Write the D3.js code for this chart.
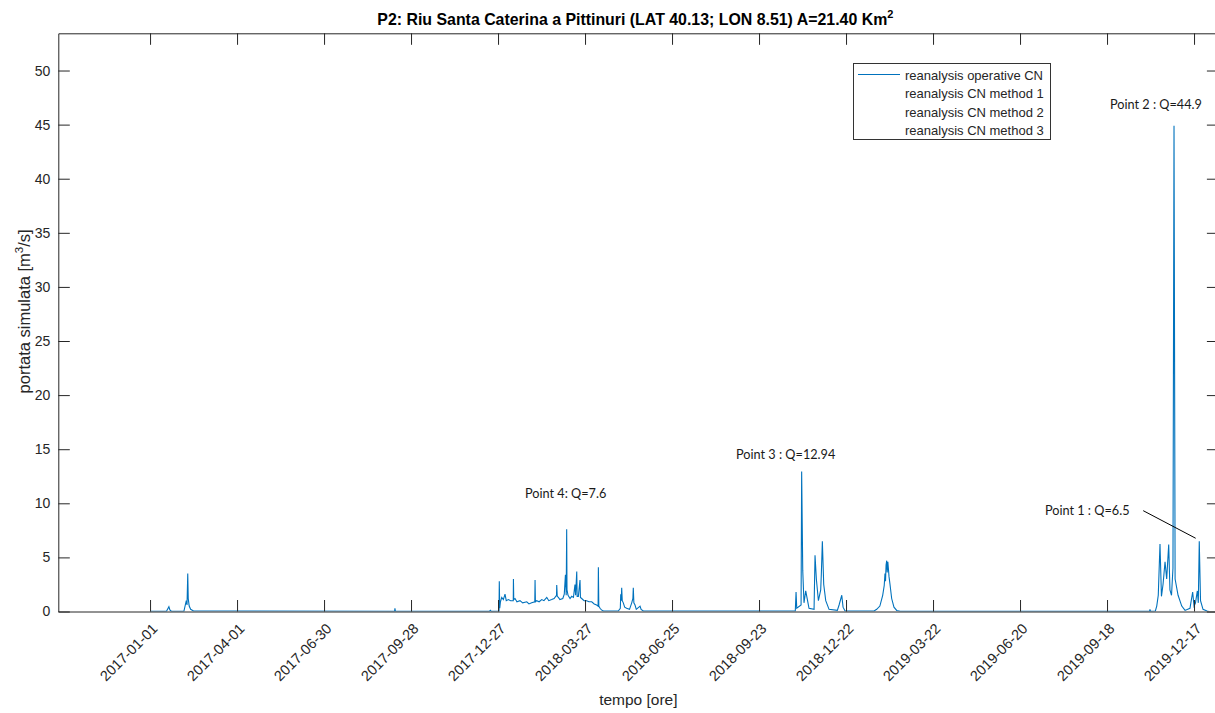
<!DOCTYPE html>
<html>
<head>
<meta charset="utf-8">
<script src="https://cdn.jsdelivr.net/npm/d3@7"></script>
<style>
  html, body { margin: 0; padding: 0; background: #fff; }
  svg { display: block; }
</style>
</head>
<body>
<svg id="chart" width="1215" height="713"></svg>
<script>
// ---------------- DATA ----------------
const tickLabels = ["2017-01-01","2017-04-01","2017-06-30","2017-09-28","2017-12-27","2018-03-27",
  "2018-06-25","2018-09-23","2018-12-22","2019-03-22","2019-06-20","2019-09-18","2019-12-17"];
const yTicks = [0,5,10,15,20,25,30,35,40,45,50];

const times = [
  "2017-01-01 00:00","2017-01-18 00:00","2017-01-20 12:00","2017-01-21 12:00","2017-01-23 00:00",
  "2017-02-05 00:00","2017-02-07 12:00","2017-02-08 06:00","2017-02-09 00:00","2017-02-09 12:00",
  "2017-02-10 12:00","2017-02-12 00:00","2017-02-15 00:00",
  "2017-09-11 00:00","2017-09-11 08:00","2017-09-11 20:00",
  "2017-12-18 00:00","2017-12-19 00:00","2017-12-20 00:00",
  "2017-12-28 00:00","2017-12-28 07:00","2017-12-28 18:00","2017-12-29 12:00","2017-12-30 19:00",
  "2018-01-01 12:00","2018-01-03 05:00","2018-01-04 12:00","2018-01-06 17:00","2018-01-09 00:00",
  "2018-01-11 18:00","2018-01-11 22:00","2018-01-12 06:00","2018-01-13 14:00","2018-01-15 12:00",
  "2018-01-18 17:00","2018-01-21 12:00","2018-01-25 17:00","2018-01-28 00:00","2018-01-30 19:00",
  "2018-02-03 00:00","2018-02-03 07:00","2018-02-03 16:00","2018-02-05 00:00","2018-02-07 12:00",
  "2018-02-10 05:00","2018-02-12 12:00","2018-02-15 10:00","2018-02-17 12:00","2018-02-20 12:00",
  "2018-02-23 00:00","2018-02-25 12:00","2018-02-25 17:00","2018-02-26 06:00","2018-02-27 10:00",
  "2018-03-01 00:00","2018-03-04 00:00","2018-03-05 12:00","2018-03-06 17:00","2018-03-07 12:00",
  "2018-03-08 00:00","2018-03-08 08:00","2018-03-09 10:00","2018-03-11 12:00","2018-03-13 05:00",
  "2018-03-15 00:00","2018-03-16 14:00","2018-03-17 06:00","2018-03-18 10:00","2018-03-18 20:00",
  "2018-03-20 02:00","2018-03-21 19:00","2018-03-22 06:00","2018-03-23 12:00","2018-03-26 00:00",
  "2018-03-28 17:00","2018-03-31 00:00","2018-04-02 22:00","2018-04-05 12:00","2018-04-08 00:00",
  "2018-04-09 12:00","2018-04-09 19:00","2018-04-10 06:00","2018-04-11 12:00","2018-04-13 00:00",
  "2018-04-15 00:00","2018-04-30 10:00","2018-05-02 12:00","2018-05-02 22:00","2018-05-03 10:00",
  "2018-05-03 22:00","2018-05-04 12:00","2018-05-05 14:00","2018-05-07 00:00","2018-05-09 00:00",
  "2018-05-12 00:00","2018-05-14 07:00","2018-05-15 12:00","2018-05-15 22:00","2018-05-16 12:00",
  "2018-05-17 17:00","2018-05-19 00:00","2018-05-22 22:00","2018-05-24 00:00","2018-05-26 07:00",
  "2018-10-30 12:00","2018-10-31 07:00","2018-11-01 00:00","2018-11-05 12:00","2018-11-06 02:00",
  "2018-11-07 05:00","2018-11-08 12:00","2018-11-10 07:00","2018-11-13 17:00","2018-11-18 22:00",
  "2018-11-19 22:00","2018-11-21 07:00","2018-11-23 10:00","2018-11-25 19:00","2018-11-26 10:00",
  "2018-11-27 12:00","2018-11-28 22:00","2018-12-01 00:00","2018-12-04 10:00","2018-12-13 00:00",
  "2018-12-14 19:00","2018-12-17 14:00","2018-12-18 22:00","2018-12-21 00:00",
  "2019-01-20 00:00","2019-01-22 17:00","2019-01-26 00:00","2019-01-28 22:00","2019-01-30 12:00",
  "2019-01-31 07:00","2019-01-31 20:00","2019-02-01 10:00","2019-02-02 02:00","2019-02-02 14:00",
  "2019-02-03 06:00","2019-02-03 19:00","2019-02-04 12:00","2019-02-05 12:00","2019-02-07 05:00",
  "2019-02-09 14:00","2019-02-12 10:00","2019-02-16 00:00",
  "2019-11-01 00:00","2019-11-01 10:00","2019-11-02 00:00","2019-11-07 00:00","2019-11-08 10:00",
  "2019-11-10 00:00","2019-11-11 19:00","2019-11-13 07:00","2019-11-14 22:00","2019-11-17 00:00",
  "2019-11-18 17:00","2019-11-20 19:00","2019-11-22 02:00","2019-11-23 17:00","2019-11-25 05:00",
  "2019-11-26 07:00","2019-11-27 10:00","2019-11-30 12:00","2019-12-04 07:00","2019-12-07 17:00",
  "2019-12-12 19:00","2019-12-15 14:00","2019-12-17 00:00","2019-12-18 12:00","2019-12-20 10:00",
  "2019-12-21 10:00","2019-12-22 10:00","2019-12-23 17:00","2019-12-26 07:00","2019-12-30 10:00",
  "2019-12-31 23:00"
];
const flowOperative = [
  0.02,0.02,0.45,0.15,0.03,
  0.02,1.0,0.6,3.5,1.2,
  0.5,0.2,0.05,
  0.02,0.3,0.02,
  0.02,0.12,0.02,
  0.05,2.8,0.3,0.9,1.3,
  1.1,1.6,1.0,1.1,1.0,
  1.0,3.0,1.1,1.2,0.9,
  1.0,0.8,0.9,0.7,0.8,
  0.9,2.9,0.9,1.0,0.9,
  1.1,1.0,1.3,1.0,1.1,
  1.2,1.5,2.45,1.4,1.3,
  1.1,1.2,1.6,3.4,1.5,
  7.6,2.0,1.5,1.2,1.4,
  1.3,2.5,1.5,3.7,1.4,
  1.4,2.9,1.3,1.2,1.0,
  1.0,0.9,0.9,0.7,0.6,
  0.5,4.1,0.5,0.3,0.15,
  0.05,0.05,0.3,1.6,1.0,
  2.2,1.0,0.8,0.4,0.3,
  0.2,0.8,1.2,2.2,0.8,
  0.6,0.2,0.5,0.2,0.05,
  0.05,1.8,0.3,0.6,12.94,
  3.8,0.8,1.9,0.3,0.2,
  5.2,3.0,1.0,2.0,3.4,
  6.5,2.5,1.0,0.2,0.1,
  0.6,1.5,0.4,0.05,
  0.05,0.2,0.5,1.5,2.4,
  3.5,2.8,4.3,4.7,3.6,
  4.6,4.0,3.2,2.5,1.2,
  0.4,0.1,0.03,
  0.02,0.2,0.02,0.05,0.5,
  1.5,6.24,1.4,2.5,4.6,
  3.0,6.2,2.0,1.5,4.0,
  44.9,3.0,1.5,0.5,0.1,
  0.3,1.8,0.5,0.8,1.9,
  0.8,6.5,1.0,0.2,0.05,
  0.03
];

const legendLabels = ["reanalysis operative CN","reanalysis CN method 1","reanalysis CN method 2","reanalysis CN method 3"];

const annoTexts  = ["Point 2 : Q=44.9","Point 3 : Q=12.94","Point 4: Q=7.6","Point 1 : Q=6.5"];
const annoTimes  = ["2019-09-21 02:00","2018-08-30 05:00","2018-01-23 22:00","2019-07-15 19:00"];
const annoValues = [46.4, 14.1, 10.49, 8.92];
const pointerTimes  = ["2019-10-25 10:00","2019-12-18 17:00"];
const pointerValues = [9.32, 6.77];

// ---------------- CHART ----------------
const parse = d3.timeParse("%Y-%m-%d %H:%M");
const parseDay = d3.timeParse("%Y-%m-%d");
const data = times.map((t,i) => ({t: parse(t), v: flowOperative[i]}));

const svg = d3.select("#chart");
const L = 58.3, R = 1218.4, T = 33.3, B = 611.5;
const x = d3.scaleTime().domain([parse("2016-09-28 02:00"), parse("2020-01-11 05:00")]).range([L, R]);
const y = d3.scaleLinear().domain([0, 53.44]).range([B, T]);

const axisColor = "#262626";
const font = "'Liberation Sans', Arial, Helvetica, sans-serif";

// data line
svg.append("clipPath").attr("id","clip").append("rect")
  .attr("x", L).attr("y", T).attr("width", R - L).attr("height", B - T);
svg.append("path").datum(data)
  .attr("clip-path","url(#clip)")
  .attr("fill","none").attr("stroke","#0072BD").attr("stroke-width",1.1)
  .attr("d", d3.line().x(d => x(d.t)).y(d => y(d.v)));

// axes (ticks inward, box)
const xTickDates = tickLabels.map(parseDay);
const tickLen = 11.5;
const gBottom = svg.append("g").attr("transform", `translate(0,${B})`)
  .call(d3.axisBottom(x).tickValues(xTickDates).tickSizeInner(-tickLen).tickSizeOuter(0).tickFormat(""));
const gTop = svg.append("g").attr("transform", `translate(0,${T})`)
  .call(d3.axisTop(x).tickValues(xTickDates).tickSizeInner(-tickLen).tickSizeOuter(0).tickFormat(""));
const gLeft = svg.append("g").attr("transform", `translate(${L},0)`)
  .call(d3.axisLeft(y).tickValues(yTicks).tickSizeInner(-tickLen).tickSizeOuter(0).tickFormat(d3.format("d")).tickPadding(8));
const gRight = svg.append("g").attr("transform", `translate(${R},0)`)
  .call(d3.axisRight(y).tickValues(yTicks).tickSizeInner(-tickLen).tickSizeOuter(0).tickFormat(""));
[gBottom, gTop, gLeft, gRight].forEach(g => {
  g.select(".domain").attr("stroke", axisColor).attr("stroke-width", 1);
  g.selectAll(".tick line").attr("stroke", axisColor).attr("stroke-width", 1);
});
gLeft.selectAll(".tick text").attr("fill", axisColor).attr("font-family", font).attr("font-size", 14);

// rotated x labels
svg.append("g").selectAll("text").data(xTickDates).join("text")
  .attr("transform", d => `translate(${x(d)+8.5},${B + 18}) rotate(-45)`)
  .attr("text-anchor","end")
  .attr("fill", axisColor).attr("font-family", font).attr("font-size", 14.5)
  .text((d,i) => tickLabels[i]);

// axis labels
svg.append("text").attr("x", (L + R) / 2).attr("y", 705).attr("text-anchor","middle")
  .attr("fill", axisColor).attr("font-family", font).attr("font-size", 15.5).text("tempo [ore]");

const yl = svg.append("text").attr("transform", `translate(30,${(T + B) / 2 - 11}) rotate(-90)`)
  .attr("text-anchor","middle").attr("fill", axisColor).attr("font-family", font).attr("font-size", 16.5);
yl.append("tspan").text("portata simulata [m");
yl.append("tspan").attr("dy", -7).attr("font-size", 11.5).text("3");
yl.append("tspan").attr("dy", 7).text("/s]");

// title
const title = svg.append("text").attr("x", (L + R) / 2 - 3).attr("y", 25).attr("text-anchor","middle")
  .attr("fill", "#000").attr("font-family", font).attr("font-size", 15.9).attr("font-weight","bold");
title.append("tspan").text("P2: Riu Santa Caterina a Pittinuri (LAT 40.13; LON 8.51) A=21.40 Km");
title.append("tspan").attr("dy", -7).attr("font-size", 11).text("2");

// legend
const lg = svg.append("g");
lg.append("rect").attr("x", 853.5).attr("y", 63.5).attr("width", 197).attr("height", 76)
  .attr("fill","#fff").attr("stroke", "#333").attr("stroke-width", 1);
lg.append("line").attr("x1", 858).attr("x2", 900).attr("y1", 74.5).attr("y2", 74.5)
  .attr("stroke", "#0072BD").attr("stroke-width", 1.1);
lg.selectAll("text.lab").data(legendLabels).join("text").attr("class","lab")
  .attr("x", 905).attr("y", (d,i) => 79.5 + i * 18.6)
  .attr("fill", axisColor).attr("font-family", font).attr("font-size", 13).text(d => d);

// annotations
const annoFont = "Lato, 'Open Sans', sans-serif";
svg.append("g").selectAll("text").data(annoTexts).join("text")
  .attr("x", (d,i) => x(parse(annoTimes[i])))
  .attr("y", (d,i) => y(annoValues[i]))
  .attr("fill", "#1a1a1a").attr("font-family", annoFont).attr("font-size", 12.7).text(d => d);
svg.append("line")
  .attr("x1", x(parse(pointerTimes[0]))).attr("y1", y(pointerValues[0]))
  .attr("x2", x(parse(pointerTimes[1]))).attr("y2", y(pointerValues[1]))
  .attr("stroke", "#000").attr("stroke-width", 1);
</script>
</body>
</html>
